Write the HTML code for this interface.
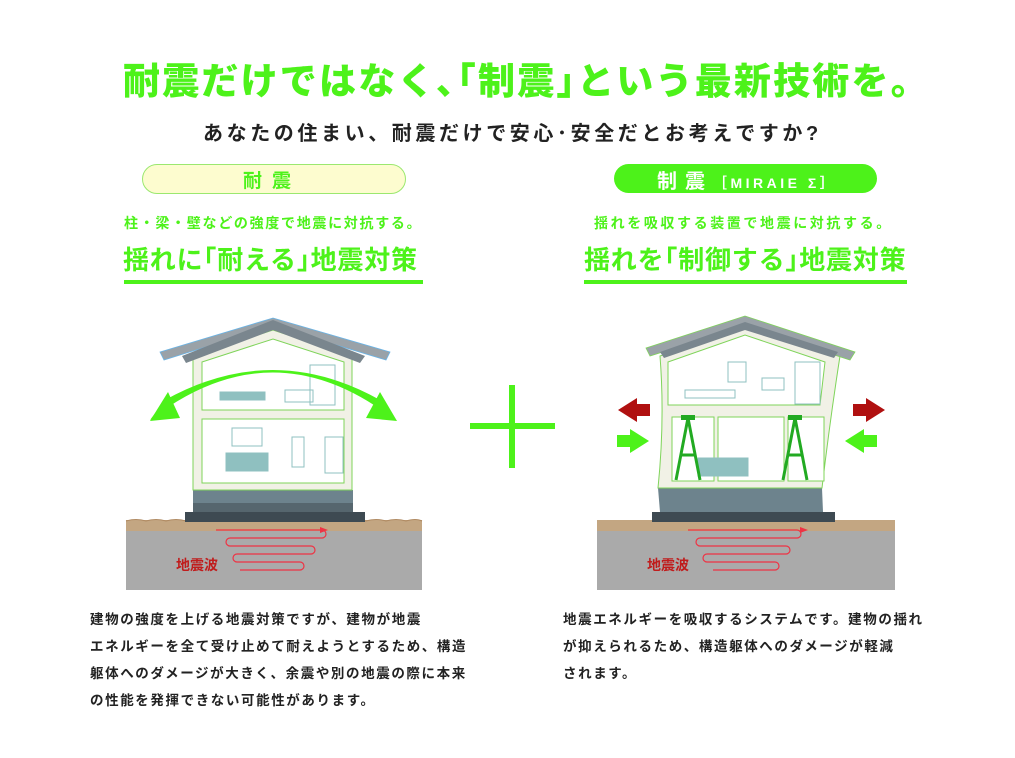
<!DOCTYPE html>
<html><head><meta charset="utf-8"><style>
body{margin:0;width:1015px;height:758px;background:#fff;position:relative;overflow:hidden;font-family:"Liberation Sans","Noto Sans CJK JP",sans-serif}
.a{position:absolute;white-space:nowrap}
.g{color:#4df21a;font-weight:bold}
.p{font-size:13.5px;line-height:27px;color:#222;letter-spacing:1.6px;font-weight:bold}
</style></head><body>
<div class="a g" style="left:123px;top:51px;font-size:37px;letter-spacing:2.2px;font-weight:900">耐震だけではなく､｢制震｣という最新技術を。</div>
<div class="a" style="left:203px;top:117px;font-size:20px;color:#222;letter-spacing:3.6px;font-weight:bold">あなたの住まい、耐震だけで安心･安全だとお考えですか?</div>

<div class="a" style="left:142px;top:164px;width:262px;height:28px;border:1px solid #9be86f;border-radius:15px;background:#fdfccf"></div>
<div class="a g" style="left:243px;top:166px;font-size:19px;letter-spacing:10px">耐震</div>
<div class="a" style="left:614px;top:164px;width:263px;height:29px;border-radius:15px;background:#4df21a"></div>
<div class="a" style="left:657px;top:165px;font-size:20px;color:#fff;font-weight:bold;letter-spacing:8px">制震<span style="font-size:14px;letter-spacing:3.5px">［MIRAIE Σ］</span></div>

<div class="a g" style="left:124px;top:213px;font-size:14px;letter-spacing:1.7px">柱・梁・壁などの強度で地震に対抗する。</div>
<div class="a g" style="left:123px;top:240px;font-size:26px;letter-spacing:0.8px">揺れに｢耐える｣地震対策</div>
<div class="a" style="left:124px;top:280px;width:299px;height:4px;background:#4df21a"></div>
<div class="a g" style="left:594px;top:213px;font-size:14px;letter-spacing:2.6px">揺れを吸収する装置で地震に対抗する。</div>
<div class="a g" style="left:584px;top:240px;font-size:26px;letter-spacing:0.8px">揺れを｢制御する｣地震対策</div>
<div class="a" style="left:584px;top:280px;width:323px;height:4px;background:#4df21a"></div>

<svg class="a" style="left:0;top:0" width="1015" height="758">
<rect x="470" y="423" width="85" height="6" fill="#4df21a"/>
<rect x="509" y="385" width="6" height="83" fill="#4df21a"/>
<!-- LEFT -->
<rect x="126" y="530" width="296" height="60" fill="#aaa"/>
<rect x="126" y="520" width="296" height="11" fill="#c3a682"/>
<path d="M126 521 q10 -3 20 0 q10 -3 20 0 q10 -3 20 0 q10-3 20 0 q10-3 20 0 q10-3 20 0 q10-3 20 0 q10-3 20 0 q10-3 20 0 q10-3 20 0 q10-3 20 0 q10-3 20 0 q10-3 20 0 q10-3 20 0 q10-3 16 0" stroke="#b08a62" fill="none"/>
<rect x="185" y="512" width="180" height="10" fill="#3e4a52"/>
<rect x="193" y="490" width="160" height="22" fill="#6d838d"/>
<rect x="193" y="503" width="160" height="9" fill="#56666e"/>
<path d="M193 490 V356 L273 330 L352 356 V490Z" fill="#f1f1e6" stroke="#7fd45a"/>
<rect x="202" y="419" width="142" height="64" fill="#fff" stroke="#7fd45a"/>
<path d="M202 410 V362 L273 339 L344 362 V410Z" fill="#fff" stroke="#7fd45a"/>
<path d="M160 352 L273 318 L390 352 L386 360 L273 326 L164 360Z" fill="#9aa2a8" stroke="#6ab4e6" stroke-width="0.8"/>
<path d="M182 356 L273 320 L365 356 L360 363 L273 330 L186 363Z" fill="#7a868e"/>
<g fill="#8fc0c0" stroke="#8fc0c0">
<rect x="226" y="453" width="42" height="18"/><rect x="232" y="428" width="30" height="18" fill="none"/>
<rect x="292" y="437" width="12" height="30" fill="none"/><rect x="325" y="437" width="18" height="36" fill="none"/>
<rect x="220" y="392" width="45" height="8"/><rect x="285" y="390" width="28" height="12" fill="none"/><rect x="310" y="365" width="25" height="40" fill="none"/>
</g>
<path d="M150 420 Q273 325 395 420 L380 400 Q273 340 165 400Z" fill="#4df21a"/>
<path d="M150 421 L168 392 L180 418Z" fill="#4df21a"/><path d="M397 421 L380 392 L366 418Z" fill="#4df21a"/>
<path d="M216 530 H322 a3 3 0 0 1 0 8 H230 a3 3 0 0 0 0 8 H311 a3 3 0 0 1 0 8 H237 a3 3 0 0 0 0 8 H300 a3 3 0 0 1 0 8 H240" stroke="#ee3344" fill="none" stroke-width="1.2"/>
<path d="M320 527 L328 530 L320 533Z" fill="#ee3344"/>
<text x="176" y="570" font-size="14" fill="#c01c1c" font-weight="bold" font-family="Liberation Sans,Noto Sans CJK JP,sans-serif">地震波</text>
<!-- RIGHT -->
<rect x="597" y="530" width="298" height="60" fill="#aaa"/>
<rect x="597" y="520" width="298" height="11" fill="#c3a682"/>
<rect x="652" y="512" width="183" height="10" fill="#3e4a52"/>
<path d="M658 488 H822 L823 512 H660Z" fill="#6d838d"/>
<path d="M660 356 L745 328 L840 356 Q830 420 822 488 H658 Q665 420 660 356Z" fill="#f1f1e6" stroke="#7fd45a"/>
<path d="M668 405 V362 L745 335 L825 362 L820 405Z" fill="#fff" stroke="#7fd45a"/>
<rect x="672" y="417" width="42" height="64" fill="#fff" stroke="#7fd45a"/>
<rect x="718" y="417" width="66" height="64" fill="#fff" stroke="#7fd45a"/>
<rect x="788" y="417" width="36" height="64" fill="#fff" stroke="#7fd45a"/>
<path d="M646 348 L745 316 L855 352 L850 360 L745 326 L650 356Z" fill="#9aa2a8" stroke="#7fd45a" stroke-width="0.8"/>
<path d="M660 352 L745 322 L838 352 L834 358 L745 330 L664 358Z" fill="#7a868e"/>
<g fill="none" stroke="#8fc0c0"><rect x="728" y="362" width="18" height="20"/><rect x="762" y="378" width="22" height="12"/><rect x="795" y="362" width="25" height="42"/><rect x="685" y="390" width="50" height="8"/><rect x="698" y="458" width="50" height="18" fill="#8fc0c0"/></g>
<g stroke="#22aa22" stroke-width="3" fill="none"><path d="M688 418 L676 480 M688 418 L700 480 M680 455 H696"/><path d="M795 418 L783 480 M795 418 L807 480 M787 455 H803"/></g>
<rect x="681" y="415" width="14" height="5" fill="#22aa22"/><rect x="788" y="415" width="14" height="5" fill="#22aa22"/>
<path d="M650 404 H637 V398 L618 410 L637 422 V416 H650Z" fill="#b01010"/>
<path d="M853 404 H866 V398 L885 410 L866 422 V416 H853Z" fill="#b01010"/>
<path d="M617 435 H630 V429 L649 441 L630 453 V447 H617Z" fill="#4df21a"/>
<path d="M877 435 H864 V429 L845 441 L864 453 V447 H877Z" fill="#4df21a"/>
<path d="M688 530 H797 a3 3 0 0 1 0 8 H700 a3 3 0 0 0 0 8 H786 a3 3 0 0 1 0 8 H707 a3 3 0 0 0 0 8 H775 a3 3 0 0 1 0 8 H713" stroke="#ee3344" fill="none" stroke-width="1.2"/>
<path d="M800 527 L808 530 L800 533Z" fill="#ee3344"/>
<text x="647" y="570" font-size="14" fill="#c01c1c" font-weight="bold" font-family="Liberation Sans,Noto Sans CJK JP,sans-serif">地震波</text>
</svg>

<div class="a p" style="left:90px;top:606px">建物の強度を上げる地震対策ですが、建物が地震<br>エネルギーを全て受け止めて耐えようとするため、構造<br>躯体へのダメージが大きく、余震や別の地震の際に本来<br>の性能を発揮できない可能性があります。</div>
<div class="a p" style="left:563px;top:606px">地震エネルギーを吸収するシステムです。建物の揺れ<br>が抑えられるため、構造躯体へのダメージが軽減<br>されます。</div>
</body></html>
